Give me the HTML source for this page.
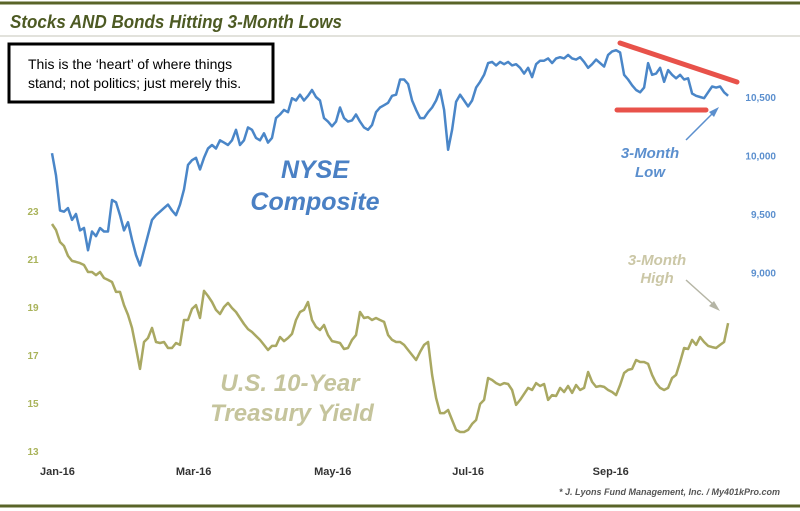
<!DOCTYPE html>
<html><head><meta charset="utf-8">
<style>
html,body{margin:0;padding:0;background:#fff;}
svg{display:block;}
text{font-family:"Liberation Sans",sans-serif;}
</style></head>
<body>
<svg id="chart" width="800" height="511" viewBox="0 0 800 511" xmlns="http://www.w3.org/2000/svg">
<rect x="0" y="0" width="800" height="511" fill="#fff"/>
<line x1="0" y1="3" x2="800" y2="3" stroke="#5a6428" stroke-width="3"/>
<text x="10" y="28" font-size="18" font-weight="bold" font-style="italic" fill="#4d5a23" textLength="332" lengthAdjust="spacingAndGlyphs">Stocks AND Bonds Hitting 3-Month Lows</text>
<line x1="0" y1="36" x2="800" y2="36" stroke="#d8d8d0" stroke-width="1.5"/>
<line x1="0" y1="506" x2="800" y2="506" stroke="#5a6428" stroke-width="3"/>
<g>
<rect x="9" y="44" width="264" height="58" fill="#fff" stroke="#000" stroke-width="3"/>
<text x="28" y="69" font-size="14" fill="#000">This is the ‘heart’ of where things</text>
<text x="28" y="88" font-size="14" fill="#000">stand; not politics; just merely this.</text>
</g>
<g id="xaxis"></g>
<g id="yleft"></g>
<g id="yright"></g>
<g id="series"></g>
<text x="315" y="178" text-anchor="middle" font-size="25" font-weight="bold" font-style="italic" fill="#4a80c4">NYSE</text>
<text x="315" y="210" text-anchor="middle" font-size="25" font-weight="bold" font-style="italic" fill="#4a80c4">Composite</text>
<text x="290" y="391" text-anchor="middle" font-size="24" font-weight="bold" font-style="italic" fill="#c5c49c">U.S. 10-Year</text>
<text x="292" y="421" text-anchor="middle" font-size="24" font-weight="bold" font-style="italic" fill="#c5c49c">Treasury Yield</text>
<line x1="620" y1="43" x2="737" y2="82" stroke="#e8524a" stroke-width="5" stroke-linecap="round"/>
<line x1="617" y1="110" x2="706" y2="110" stroke="#e8524a" stroke-width="5" stroke-linecap="round"/>
<line x1="686" y1="140" x2="714" y2="112" stroke="#5b8fce" stroke-width="1.5"/>
<polygon points="719,107 709,112 714,117" fill="#5b8fce"/>
<text x="650" y="158" text-anchor="middle" font-size="15" font-weight="bold" font-style="italic" fill="#5b8fce">3-Month</text>
<text x="650" y="177" text-anchor="middle" font-size="15" font-weight="bold" font-style="italic" fill="#5b8fce">Low</text>
<text x="657" y="265" text-anchor="middle" font-size="15" font-weight="bold" font-style="italic" fill="#cbc7a6">3-Month</text>
<text x="657" y="283" text-anchor="middle" font-size="15" font-weight="bold" font-style="italic" fill="#cbc7a6">High</text>
<line x1="686" y1="280" x2="715" y2="306" stroke="#b5b5a5" stroke-width="1.5"/>
<polygon points="720,311 709,306 714,301" fill="#b5b5a5"/>
<text x="780" y="495" text-anchor="end" font-size="9" font-weight="bold" font-style="italic" fill="#555">* J. Lyons Fund Management, Inc. / My401kPro.com</text>
</svg>
<script>
const xTickLabels = ["Jan-16","Mar-16","May-16","Jul-16","Sep-16"];
const xTickDays = [0,60,121,182,244];
const yieldTicks = [23,21,19,17,15,13];
const nyseTicks = [10500,10000,9500,9000];
const nyseTickLabels = ["10,500","10,000","9,500","9,000"];
const nyseValues = [10020,9830,9530,9520,9550,9450,9500,9360,9380,9190,9350,9310,9380,9350,9350,9620,9600,9490,9360,9430,9280,9150,9060,9190,9320,9450,9490,9520,9550,9580,9530,9490,9580,9710,9920,9960,9980,9880,9980,10060,10090,10060,10130,10110,10090,10130,10220,10090,10130,10240,10220,10150,10130,10190,10110,10150,10320,10350,10390,10370,10490,10470,10520,10470,10510,10560,10500,10470,10320,10290,10250,10290,10410,10320,10290,10300,10350,10290,10240,10220,10260,10370,10410,10430,10450,10510,10520,10650,10650,10610,10470,10390,10320,10320,10370,10410,10470,10560,10390,10050,10220,10460,10520,10470,10420,10470,10580,10630,10690,10790,10800,10770,10800,10780,10800,10770,10780,10750,10700,10750,10670,10780,10810,10810,10830,10790,10830,10840,10830,10860,10830,10820,10840,10800,10750,10780,10820,10790,10760,10860,10890,10900,10880,10690,10650,10600,10560,10540,10580,10790,10690,10700,10750,10630,10730,10690,10660,10690,10650,10660,10530,10510,10500,10490,10540,10590,10580,10590,10540,10510];
const yieldValues = [22.46,22.21,21.71,21.54,21.13,20.92,20.88,20.83,20.75,20.46,20.46,20.33,20.46,20.21,20.13,20.04,19.63,19.63,19.08,18.67,18.13,17.29,16.42,17.54,17.71,18.13,17.54,17.5,17.54,17.29,17.29,17.5,17.42,18.46,18.46,18.92,19.08,18.54,19.67,19.46,19.21,18.88,18.71,19.0,19.17,18.96,18.79,18.54,18.29,18.08,17.96,17.79,17.63,17.42,17.21,17.38,17.38,17.75,17.58,17.71,17.88,18.46,18.79,18.88,19.21,18.46,18.17,18.04,18.25,17.83,17.58,17.54,17.5,17.25,17.29,17.63,17.83,18.79,18.54,18.58,18.46,18.54,18.46,18.38,17.83,17.63,17.54,17.54,17.42,17.21,17.0,16.79,17.13,17.42,17.54,16.17,15.21,14.58,14.58,14.71,14.29,13.88,13.79,13.79,13.88,14.13,14.29,14.96,15.13,16.04,15.96,15.83,15.75,15.83,15.79,15.54,14.92,15.13,15.38,15.63,15.54,15.83,15.71,15.79,15.13,15.33,15.29,15.63,15.46,15.71,15.42,15.75,15.54,15.63,16.29,15.88,15.67,15.71,15.67,15.54,15.46,15.33,15.75,16.25,16.38,16.42,16.79,16.71,16.71,16.63,16.17,15.83,15.63,15.54,15.63,16.04,16.17,16.71,17.29,17.25,17.63,17.42,17.75,17.54,17.38,17.33,17.29,17.42,17.54,18.33];
const startDay = 0, endDay = 298.5;

const NS = "http://www.w3.org/2000/svg";
function xScale(d){ return 52 + d * 2.265; }
function yYield(v){ return 211 + (23 - v) * 24; }
function yNyse(v){ return 97 + (10500 - v) / 500 * 58.5; }
function mk(tag, attrs, parent){ const e = document.createElementNS(NS, tag); for (const k in attrs) e.setAttribute(k, attrs[k]); parent.appendChild(e); return e; }

const xa = document.getElementById('xaxis');
xTickLabels.forEach((lab, i) => {
  const t = mk('text', {x: xScale(xTickDays[i]) - 12, y: 475, 'font-size': 11, 'font-weight': 'bold', fill: '#333'}, xa);
  t.textContent = lab;
  
  
});
const yl = document.getElementById('yleft');
yieldTicks.forEach(v => {
  const t = mk('text', {x: 33, y: yYield(v) + 4, 'font-size': 10, 'font-weight': 'bold', 'text-anchor': 'middle', fill: '#a9b35a'}, yl);
  t.textContent = v;
  
  
});
const yr = document.getElementById('yright');
nyseTicks.forEach((v, i) => {
  const t = mk('text', {x: 776, y: yNyse(v) + 4, 'font-size': 10, 'font-weight': 'bold', 'text-anchor': 'end', fill: '#5b8fce'}, yr);
  t.textContent = nyseTickLabels[i];
  
  
});
function pathFor(vals, yfn){
  const n = vals.length;
  return vals.map((v, i) => (i ? 'L' : 'M') + xScale(startDay + (endDay - startDay) * i / (n - 1)).toFixed(1) + ',' + yfn(v).toFixed(1)).join(' ');
}
const sg = document.getElementById('series');
const yp = mk('path', {d: pathFor(yieldValues, yYield), fill: 'none', stroke: '#a9a862', 'stroke-width': 2.5, 'stroke-linejoin': 'round'}, sg);


const np = mk('path', {d: pathFor(nyseValues, yNyse), fill: 'none', stroke: '#4a86c8', 'stroke-width': 2.5, 'stroke-linejoin': 'round'}, sg);


</script>
</body></html>
